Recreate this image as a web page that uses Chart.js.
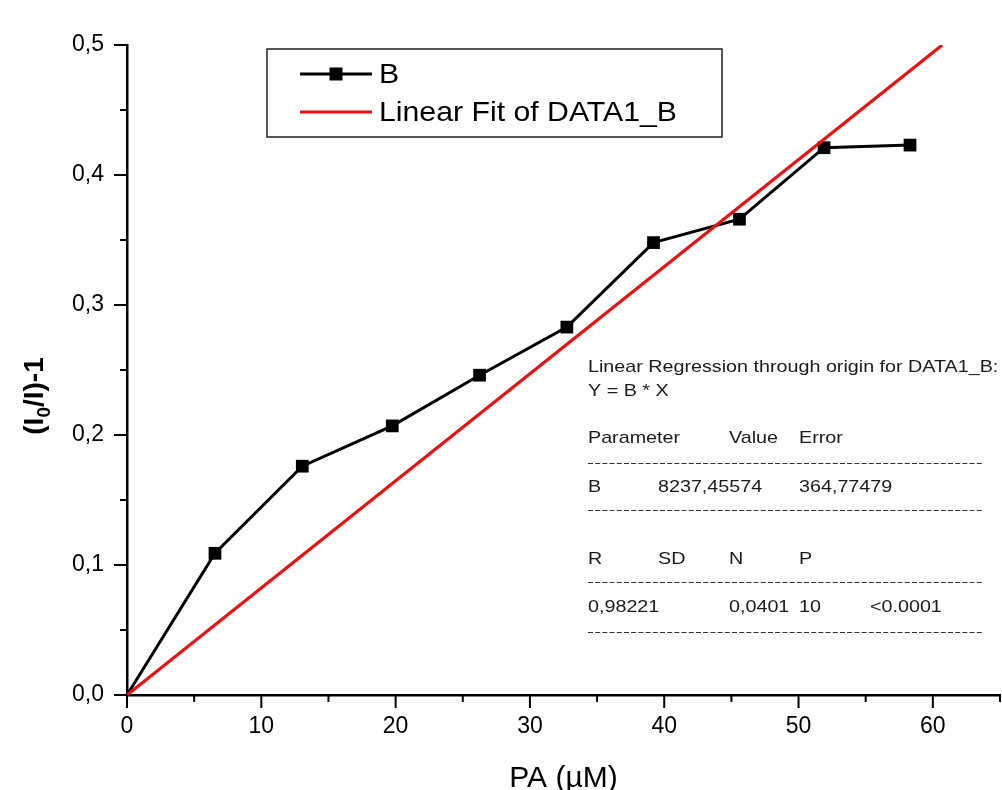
<!DOCTYPE html>
<html>
<head>
<meta charset="utf-8">
<script src="https://cdn.jsdelivr.net/npm/chart.js@4.4.1/dist/chart.umd.min.js"></script>
<style>
  body { margin: 0; background: #fff; }
  canvas { display: block; }
</style>
</head>
<body>
<canvas id="chart" width="1002" height="790"></canvas>
<script>
// measured points
const pa = [0, 6.55, 13.05, 19.75, 26.25, 32.75, 39.2, 45.6, 51.9, 58.3];
const ratio = [0, 0.109, 0.176, 0.207, 0.246, 0.283, 0.348, 0.366, 0.421, 0.423];

// fit line end points
const fitX = [0, 60.7];
const fitY = [0, 0.5];

const seriesLabels = ["B", "Linear Fit of DATA1_B"];

const statsRows = [
  ["Linear Regression through origin for DATA1_B:"],
  ["Y = B * X"],
  ["Parameter", "", "Value", "Error"],
  ["---"],
  ["B", "8237,45574", "", "364,77479"],
  ["---"],
  ["R", "SD", "N", "P"],
  ["---"],
  ["0,98221", "", "0,0401", "10", "<0.0001"],
  ["---"]
];

const FONT = "'Liberation Sans', Arial, sans-serif";
const PLOT_RIGHT = 1000;

function fmtY(v) {
  const k = Math.round(v * 100);
  if (k % 10 !== 0) return "";
  return v.toFixed(1).replace(".", ",");
}

function fmtX(v) {
  return v % 10 === 0 ? String(v) : "";
}

// text that is a bit wider than the font (the reference looks stretched)
function wideText(ctx, txt, x, y, sx) {
  ctx.save();
  ctx.translate(x, y);
  ctx.scale(sx, 1);
  ctx.fillText(txt, 0, 0);
  ctx.restore();
}

// the x axis runs right up to the edge of the picture
const stretchX = {
  id: "stretchX",
  afterLayout(chart) {
    const xs = chart.scales.x;
    chart.chartArea.right = PLOT_RIGHT;
    chart.chartArea.width = PLOT_RIGHT - chart.chartArea.left;
    xs.right = PLOT_RIGHT;
    xs.width = PLOT_RIGHT - xs.left;
    xs.configure();
  }
};

const axisTicks = {
  id: "axisTicks",
  afterDraw(chart) {
    const ctx = chart.ctx;
    ctx.save();
    ctx.strokeStyle = "#000";
    ctx.lineWidth = 2;
    const xs = chart.scales.x, ys = chart.scales.y;
    const area = chart.chartArea;
    xs.ticks.forEach(t => {
      const px = xs.getPixelForValue(t.value);
      const len = t.label !== "" ? 13 : 7;
      ctx.beginPath();
      ctx.moveTo(px, area.bottom);
      ctx.lineTo(px, area.bottom + len);
      ctx.stroke();
    });
    ys.ticks.forEach(t => {
      const py = ys.getPixelForValue(t.value);
      const len = t.label !== "" ? 13 : 7;
      ctx.beginPath();
      ctx.moveTo(area.left, py);
      ctx.lineTo(area.left - len, py);
      ctx.stroke();
    });
    ctx.restore();
  }
};

const decorations = {
  id: "decorations",
  afterDraw(chart) {
    const ctx = chart.ctx;
    const area = chart.chartArea;
    ctx.save();

    // x title
    ctx.fillStyle = "#000";
    ctx.font = "30px " + FONT;
    ctx.textAlign = "center";
    ctx.textBaseline = "alphabetic";
    ctx.fillText("PA (µM)", (area.left + area.right) / 2, 787);

    // y title with subscript
    ctx.save();
    ctx.translate(43, 396);
    ctx.rotate(-Math.PI / 2);
    ctx.textAlign = "left";
    const parts = [["(I", "bold 28px " + FONT, 0], ["0", "bold 19px " + FONT, 7], ["/I)-1", "bold 28px " + FONT, 0]];
    let total = 0;
    parts.forEach(p => { ctx.font = p[1]; total += ctx.measureText(p[0]).width; });
    let x = -total / 2;
    parts.forEach(p => {
      ctx.font = p[1];
      ctx.fillText(p[0], x, p[2]);
      x += ctx.measureText(p[0]).width;
    });
    ctx.restore();

    // legend box
    ctx.strokeStyle = "#222";
    ctx.lineWidth = 1.5;
    ctx.strokeRect(267, 49, 455, 88);
    const ds = chart.data.datasets;
    const rowsY = [74, 112];
    ds.forEach((d, i) => {
      const y = rowsY[i];
      ctx.strokeStyle = d.borderColor;
      ctx.lineWidth = 3;
      ctx.beginPath();
      ctx.moveTo(300, y);
      ctx.lineTo(372, y);
      ctx.stroke();
      if (d.pointStyle === "rect") {
        ctx.fillStyle = d.borderColor;
        ctx.fillRect(336 - 6.5, y - 6.5, 13, 13);
      }
      ctx.fillStyle = "#000";
      ctx.font = "28px " + FONT;
      ctx.textAlign = "left";
      ctx.textBaseline = "middle";
      wideText(ctx, seriesLabels[i], 379, y + 1, 1.08);
    });

    // regression stats
    const cols = [588, 658, 729, 799, 870];
    const rowY = [367, 391, 438, 463, 487, 510, 559, 582, 607, 632];
    ctx.font = "17px " + FONT;
    ctx.fillStyle = "#1a1a1a";
    ctx.textBaseline = "middle";
    statsRows.forEach((row, r) => {
      const y = rowY[r];
      if (row[0] === "---") {
        ctx.save();
        ctx.strokeStyle = "#333";
        ctx.lineWidth = 1;
        ctx.setLineDash([5, 2.2]);
        ctx.beginPath();
        ctx.moveTo(588, y + 0.5);
        ctx.lineTo(982, y + 0.5);
        ctx.stroke();
        ctx.restore();
        return;
      }
      row.forEach((txt, c) => {
        if (txt) wideText(ctx, txt, cols[c], y, 1.16);
      });
    });

    ctx.restore();
  }
};

const ctx = document.getElementById("chart");
new Chart(ctx, {
  type: "scatter",
  data: {
    datasets: [
      {
        label: seriesLabels[0],
        data: pa.map((x, i) => ({ x: x, y: ratio[i] })),
        showLine: true,
        borderColor: "#000",
        backgroundColor: "#000",
        borderWidth: 3,
        pointStyle: "rect",
        pointRadius: c => (c.dataIndex === 0 ? 0 : 9),
        pointBorderWidth: 0,
        order: 1
      },
      {
        label: seriesLabels[1],
        data: fitX.map((x, i) => ({ x: x, y: fitY[i] })),
        showLine: true,
        borderColor: "#ee1010",
        backgroundColor: "#ee1010",
        borderWidth: 3.2,
        pointRadius: 0,
        order: 0
      }
    ]
  },
  options: {
    responsive: false,
    animation: false,
    devicePixelRatio: 1,
    layout: { padding: { top: 45, right: 2, left: 0, bottom: 0 } },
    plugins: {
      legend: { display: false },
      tooltip: { enabled: false }
    },
    scales: {
      x: {
        type: "linear",
        min: 0,
        max: 65,
        afterFit: s => { s.height = 95; },
        afterBuildTicks: s => {
          const t = [];
          for (let v = 0; v <= 65; v += 5) t.push({ value: v });
          s.ticks = t;
        },
        ticks: {
          autoSkip: false,
          maxRotation: 0,
          callback: v => fmtX(v),
          font: { family: FONT, size: 23 },
          color: "#000",
          padding: 5
        },
        grid: { drawOnChartArea: false, drawTicks: true, tickLength: 13, color: "transparent" },
        border: { display: true, color: "#000", width: 2.5 }
      },
      y: {
        type: "linear",
        min: 0,
        max: 0.5,
        afterFit: s => { s.width = 127; },
        afterBuildTicks: s => {
          const t = [];
          for (let k = 0; k <= 10; k++) t.push({ value: k * 0.05 });
          s.ticks = t;
        },
        ticks: {
          autoSkip: false,
          callback: v => fmtY(v),
          font: { family: FONT, size: 23 },
          color: "#000",
          padding: 10
        },
        grid: { drawOnChartArea: false, drawTicks: true, tickLength: 13, color: "transparent" },
        border: { display: true, color: "#000", width: 2.5 }
      }
    }
  },
  plugins: [stretchX, axisTicks, decorations]
});
</script>
</body>
</html>
